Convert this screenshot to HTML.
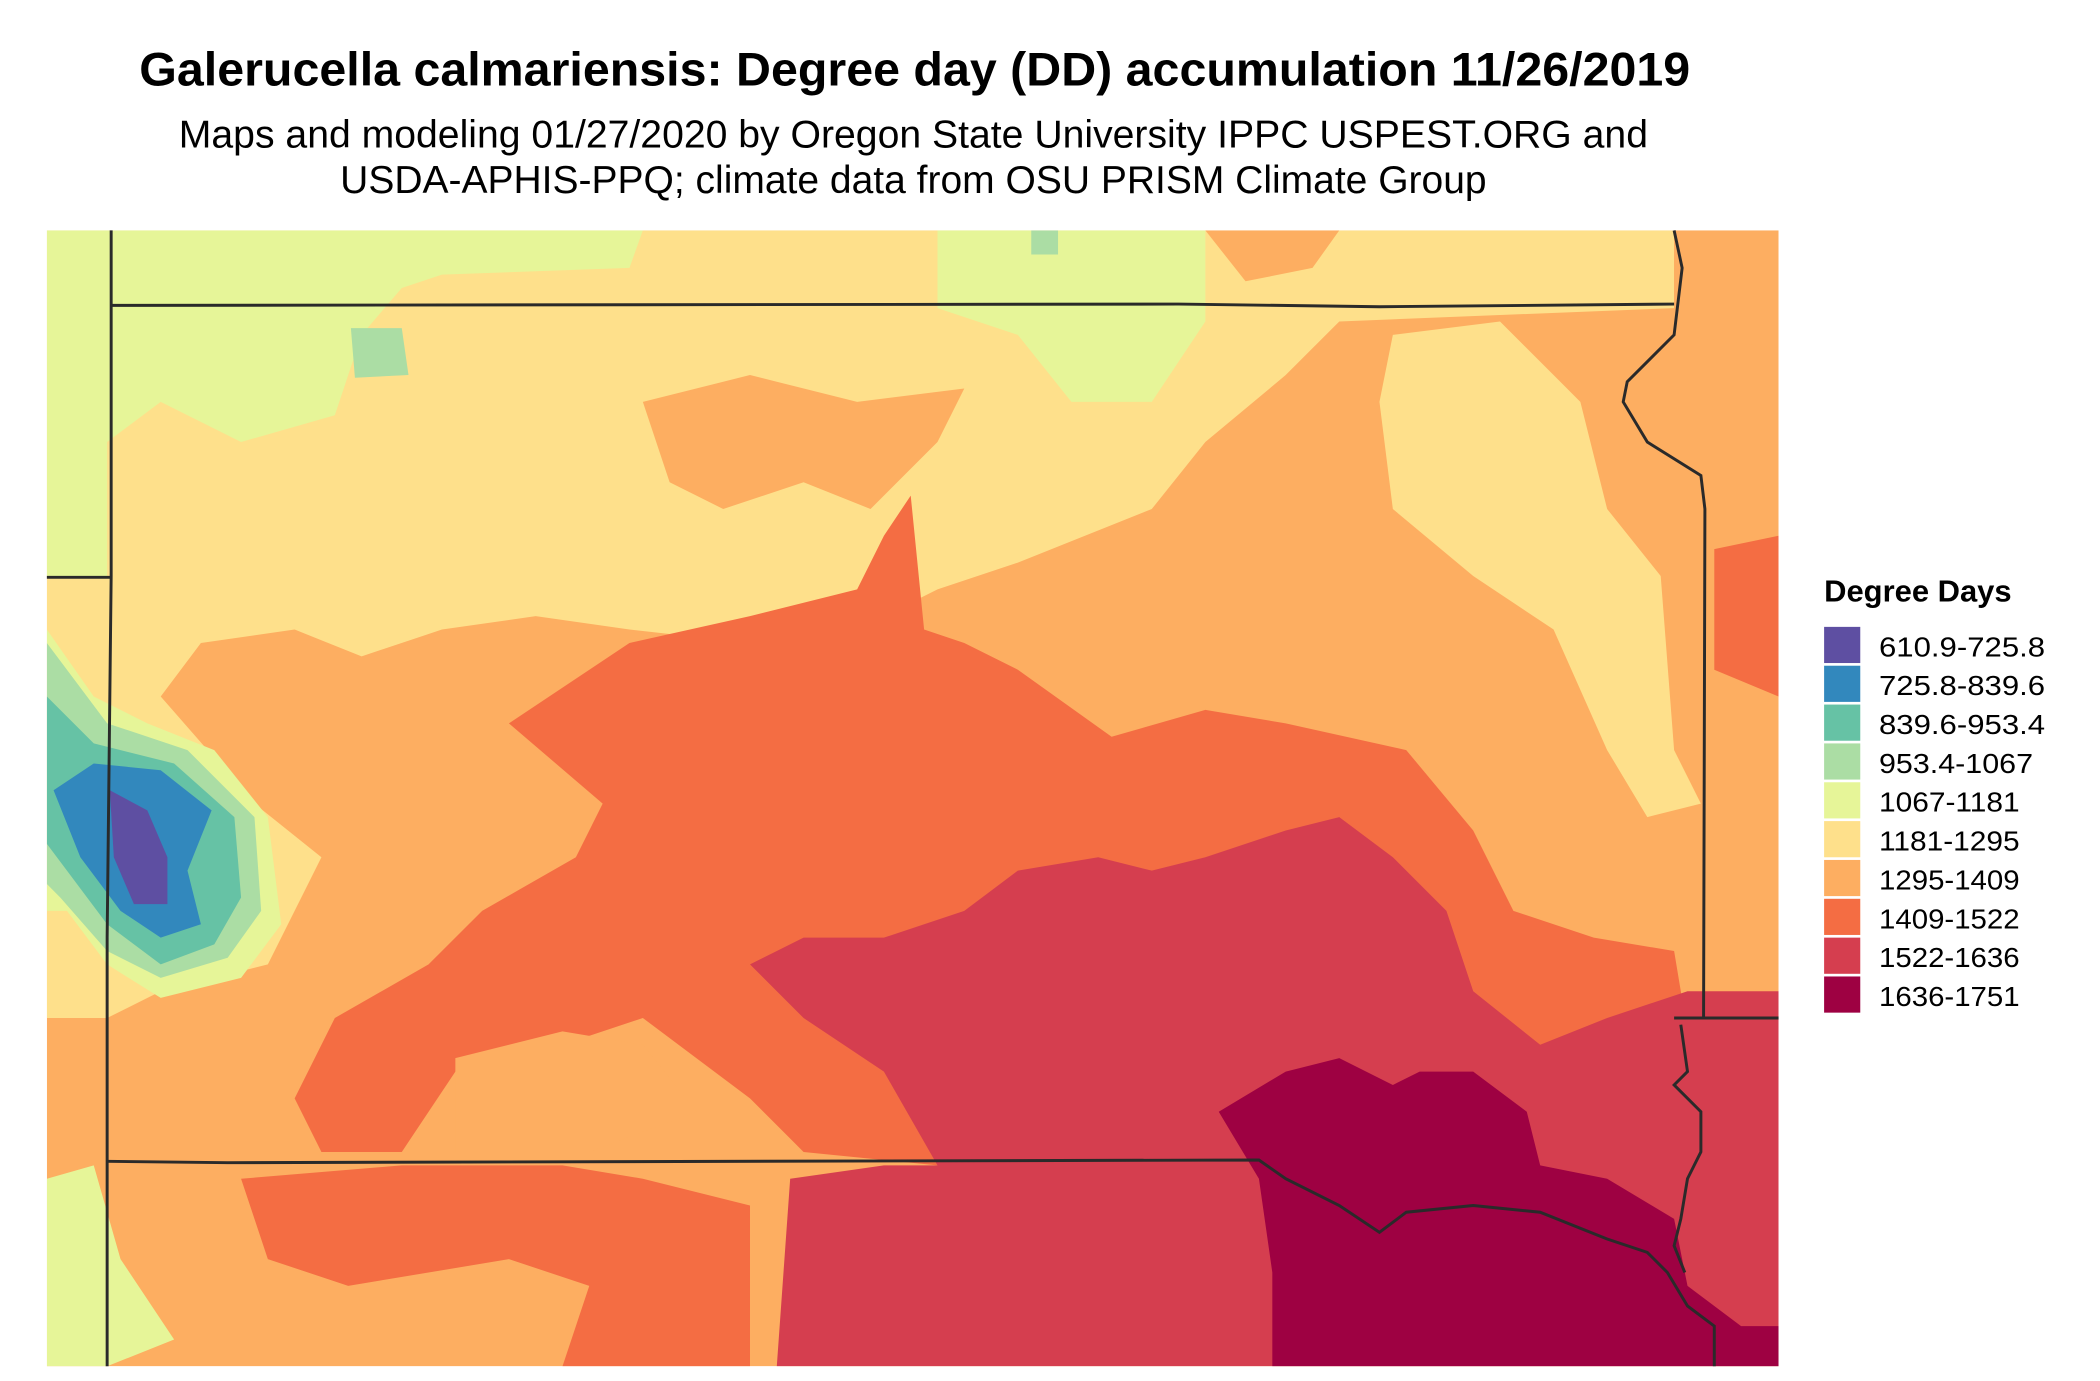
<!DOCTYPE html>
<html><head><meta charset="utf-8"><style>
html,body{margin:0;padding:0;background:#fff}
svg{display:block}
text{font-family:"Liberation Sans",sans-serif}
</style></head><body>
<svg width="2100" height="1381" viewBox="0 0 1568 1031" preserveAspectRatio="none" xmlns="http://www.w3.org/2000/svg">
<rect width="1568" height="1031" fill="#fff"/>
<text x="683" y="64" text-anchor="middle" font-size="35" font-weight="bold" textLength="1158" lengthAdjust="spacingAndGlyphs">Galerucella calmariensis: Degree day (DD) accumulation 11/26/2019</text>
<text x="682" y="110" text-anchor="middle" font-size="29" textLength="1097" lengthAdjust="spacingAndGlyphs">Maps and modeling 01/27/2020 by Oregon State University IPPC USPEST.ORG and</text>
<text x="682" y="144" text-anchor="middle" font-size="29" textLength="856" lengthAdjust="spacingAndGlyphs">USDA-APHIS-PPQ; climate data from OSU PRISM Climate Group</text>
<defs><clipPath id="c"><rect x="35" y="172" width="1293" height="848"/></clipPath></defs>
<g clip-path="url(#c)">
<rect x="35" y="172" width="1293" height="848" fill="#FDAE61"/>
<path fill="#FEE08B" d="M35 172 L1250 172 L1250 230 L1000 240 L960 280 L900 330 L860 380 L760 420 L700 440 L640 470 L560 480 L470 470 L400 460 L330 470 L270 490 L220 470 L150 480 L120 520 L190 600 L240 640 L200 720 L120 740 L80 760 L35 760 Z"/>
<path fill="#FDAE61" d="M900 172 L1000 172 L980 200 L930 210 Z"/>
<path fill="#FDAE61" d="M1250 172 L1328 172 L1328 260 L1250 250 Z"/>
<path fill="#FDAE61" d="M480 300 L560 280 L640 300 L720 290 L700 330 L650 380 L600 360 L540 380 L500 360 Z"/>
<path fill="#FEE08B" d="M1040 250 L1120 240 L1180 300 L1200 380 L1240 430 L1250 560 L1270 600 L1230 610 L1200 560 L1160 470 L1100 430 L1040 380 L1030 300 Z"/>
<path fill="#E6F598" d="M35 172 L480 172 L470 200 L330 205 L300 215 L270 250 L250 310 L180 330 L120 300 L80 330 L80 430 L35 430 Z"/>
<path fill="#E6F598" d="M700 172 L900 172 L900 240 L860 300 L800 300 L760 250 L700 230 Z"/>
<path fill="#E6F598" d="M35 880 L70 870 L90 940 L130 1000 L80 1020 L35 1020 Z"/>
<path fill="#ABDDA4" d="M262 245 L300 245 L305 280 L265 282 Z"/>
<path fill="#ABDDA4" d="M770 172 L790 172 L790 190 L770 190 Z"/>
<path fill="#F46D43" d="M380 540 L470 480 L560 460 L640 440 L660 400 L680 370 L690 470 L720 480 L760 500 L830 550 L900 530 L960 540 L1050 560 L1100 620 L1130 680 L1190 700 L1250 710 L1260 770 L1250 860 L1220 900 L1100 880 L1000 860 L900 860 L700 870 L600 860 L560 820 L480 760 L420 780 L340 800 L300 860 L240 860 L220 820 L250 760 L320 720 L360 680 L430 640 L450 600 Z"/>
<path fill="#F46D43" d="M180 880 L300 870 L420 870 L480 880 L560 900 L560 1020 L420 1020 L440 960 L380 940 L260 960 L200 940 Z"/>
<path fill="#F46D43" d="M1280 410 L1328 400 L1328 520 L1280 500 Z"/>
<path fill="#FDAE61" d="M340 790 L420 770 L480 780 L520 830 L440 860 L340 860 Z"/>
<path fill="#D53E4F" d="M660 700 L720 680 L760 650 L820 640 L860 650 L900 640 L960 620 L1000 610 L1040 640 L1080 680 L1100 740 L1150 780 L1200 760 L1260 740 L1328 740 L1328 1020 L580 1020 L590 880 L660 870 L700 870 L660 800 L600 760 L560 720 L600 700 Z"/>
<path fill="#9E0142" d="M910 830 L960 800 L1000 790 L1040 810 L1060 800 L1100 800 L1140 830 L1150 870 L1200 880 L1250 910 L1260 960 L1300 990 L1328 990 L1328 1020 L950 1020 L950 950 L940 880 Z"/>
<path fill="#E6F598" d="M35 470 L70 520 L110 540 L160 560 L200 610 L210 690 L180 730 L120 745 L80 720 L50 680 L35 680 Z"/>
<path fill="#ABDDA4" d="M35 480 L80 540 L140 560 L190 610 L195 680 L170 715 L120 730 L80 710 L45 670 L35 660 Z"/>
<path fill="#66C2A5" d="M35 520 L70 555 L130 570 L175 610 L180 670 L160 705 L120 720 L80 690 L50 650 L35 630 Z"/>
<path fill="#3288BD" d="M40 590 L70 570 L120 575 L158 605 L140 650 L150 690 L120 700 L90 680 L60 640 Z"/>
<path fill="#5E4FA2" d="M82 590 L110 605 L125 640 L125 675 L100 675 L85 640 Z"/>
</g>
<g fill="none" stroke="#2a2a2a" stroke-width="2.2">
<path d="M83 172 L83 430 L80 700 L80 1020"/>
<path d="M35 431 L83 431"/>
<path d="M83 228 L880 227 L1030 229 L1250 227"/>
<path d="M1250 172 L1256 200 L1250 250 L1215 285 L1212 300 L1230 330 L1270 355 L1273 380 L1272 760"/>
<path d="M80 867 L170 868 L940 866 L960 880 L1000 900 L1030 920 L1050 905 L1100 900 L1150 905 L1200 925 L1230 935 L1245 950 L1260 975 L1280 990 L1280 1020"/>
<path d="M1250 760 L1328 760"/>
<path d="M1255 765 L1260 800 L1250 810 L1270 830 L1270 860 L1260 880 L1255 910 L1250 930 L1258 950"/>
</g>
<text x="1362" y="449" font-size="23" font-weight="bold" textLength="140" lengthAdjust="spacingAndGlyphs">Degree Days</text>
<g font-size="21">
<rect x="1362" y="468" width="27" height="27" fill="#5E4FA2"/><text x="1403" y="490" textLength="124" lengthAdjust="spacingAndGlyphs">610.9-725.8</text>
<rect x="1362" y="497" width="27" height="27" fill="#3288BD"/><text x="1403" y="519" textLength="124" lengthAdjust="spacingAndGlyphs">725.8-839.6</text>
<rect x="1362" y="526" width="27" height="27" fill="#66C2A5"/><text x="1403" y="548" textLength="124" lengthAdjust="spacingAndGlyphs">839.6-953.4</text>
<rect x="1362" y="555" width="27" height="27" fill="#ABDDA4"/><text x="1403" y="577" textLength="115" lengthAdjust="spacingAndGlyphs">953.4-1067</text>
<rect x="1362" y="584" width="27" height="27" fill="#E6F598"/><text x="1403" y="606" textLength="105" lengthAdjust="spacingAndGlyphs">1067-1181</text>
<rect x="1362" y="613" width="27" height="27" fill="#FEE08B"/><text x="1403" y="635" textLength="105" lengthAdjust="spacingAndGlyphs">1181-1295</text>
<rect x="1362" y="642" width="27" height="27" fill="#FDAE61"/><text x="1403" y="664" textLength="105" lengthAdjust="spacingAndGlyphs">1295-1409</text>
<rect x="1362" y="671" width="27" height="27" fill="#F46D43"/><text x="1403" y="693" textLength="105" lengthAdjust="spacingAndGlyphs">1409-1522</text>
<rect x="1362" y="700" width="27" height="27" fill="#D53E4F"/><text x="1403" y="722" textLength="105" lengthAdjust="spacingAndGlyphs">1522-1636</text>
<rect x="1362" y="729" width="27" height="27" fill="#9E0142"/><text x="1403" y="751" textLength="105" lengthAdjust="spacingAndGlyphs">1636-1751</text>
</g>
</svg>
</body></html>
